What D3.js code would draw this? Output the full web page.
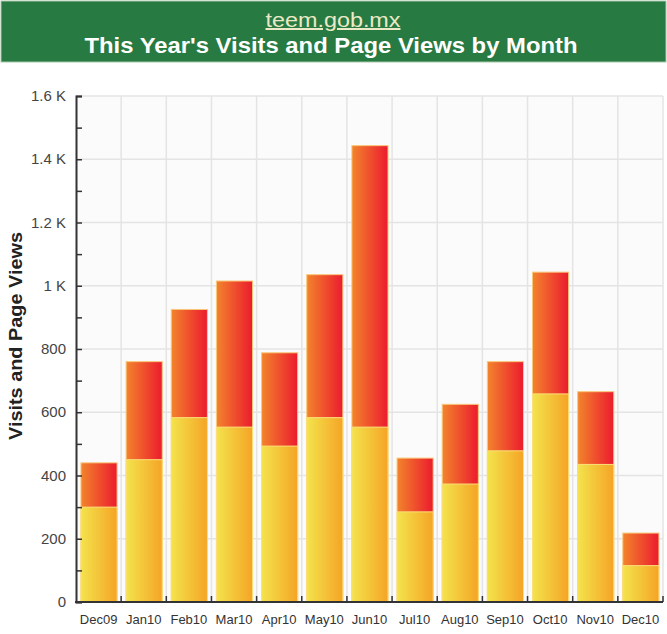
<!DOCTYPE html>
<html>
<head>
<meta charset="utf-8">
<script src="https://cdn.jsdelivr.net/npm/d3@7"></script>
<style>
  body { margin: 0; background: #fff; }
  svg { display: block; font-family: "Liberation Sans", Arial, sans-serif; }
</style>
</head>
<body>
<div id="graphicContainer"></div>
<script>
// data
var months = ["Dec09", "Jan10", "Feb10", "Mar10", "Apr10", "May10", "Jun10", "Jul10", "Aug10", "Sep10", "Oct10", "Nov10", "Dec10"]
var visits = [300, 450, 583, 553, 493, 583, 553, 285, 373, 478, 658, 435, 115]
var pageViews = [440, 760, 925, 1015, 788, 1035, 1443, 455, 625, 760, 1043, 665, 218]
var yTicks = [0, 200, 400, 600, 800, 1000, 1200, 1400, 1600]

var width = 667
var height = 634
var margin = { top: 96, right: 4, bottom: 32, left: 76 }

var svg = d3.select("#graphicContainer").append("svg")
  .attr("width", width)
  .attr("height", height)

var defs = svg.append("defs")

function gradient(id, from, to) {
  var g = defs.append("linearGradient").attr("id", id)
    .attr("x1", "0%").attr("x2", "100%").attr("y1", "0%").attr("y2", "0%")
  g.append("stop").attr("offset", "0%").attr("stop-color", from)
  g.append("stop").attr("offset", "100%").attr("stop-color", to)
}
gradient("gradVisits", "#f3e34c", "#f5a425")
gradient("gradViews", "#f2842c", "#ec1b2e")

// header
svg.append("rect")
  .attr("x", 1).attr("y", 1)
  .attr("width", width - 2).attr("height", 61)
  .attr("fill", "#267a42")
  .attr("stroke", "#a9c7a9")

svg.append("text")
  .attr("x", 333).attr("y", 27)
  .attr("text-anchor", "middle")
  .attr("fill", "#ece9c6")
  .attr("font-size", 20)
  .attr("textLength", 135)
  .attr("lengthAdjust", "spacingAndGlyphs")
  .attr("text-decoration", "underline")
  .text("teem.gob.mx")

svg.append("text")
  .attr("x", 331).attr("y", 53)
  .attr("text-anchor", "middle")
  .attr("fill", "#fff")
  .attr("font-size", 22)
  .attr("font-weight", "bold")
  .attr("textLength", 493)
  .attr("lengthAdjust", "spacingAndGlyphs")
  .text("This Year's Visits and Page Views by Month")

var x = d3.scaleBand()
  .domain(months)
  .range([margin.left, width - margin.right])
  .paddingInner(0.2)
  .paddingOuter(0.1)
  .align(0.55)

var y = d3.scaleLinear()
  .domain([0, 1600])
  .range([height - margin.bottom, margin.top])

var step = x.step()
var bandEdges = months.map((m, i) => margin.left + step * (i + 1))

// plot background and grid
svg.append("rect")
  .attr("x", margin.left).attr("y", margin.top)
  .attr("width", width - margin.right - margin.left)
  .attr("height", y(0) - margin.top)
  .attr("fill", "#fbfbfb")

svg.append("g")
  .selectAll("line")
  .data(yTicks.slice(1))
  .enter()
  .append("line")
  .attr("x1", margin.left).attr("x2", width - margin.right)
  .attr("y1", d => y(d)).attr("y2", d => y(d))
  .attr("stroke", "#e4e4e4")
  .attr("stroke-width", 1.5)

svg.append("g")
  .selectAll("line")
  .data(bandEdges)
  .enter()
  .append("line")
  .attr("x1", d => d).attr("x2", d => d)
  .attr("y1", margin.top).attr("y2", y(0))
  .attr("stroke", "#e4e4e4")
  .attr("stroke-width", 1.5)

// bars: page views behind, visits in front
var bars = svg.append("g")
  .selectAll("g")
  .data(months.map((m, i) => ({ month: m, visits: visits[i], views: pageViews[i] })))
  .enter()
  .append("g")

bars.append("rect")
  .attr("x", d => x(d.month))
  .attr("y", d => y(d.views))
  .attr("width", x.bandwidth())
  .attr("height", d => y(0) - y(d.views))
  .attr("fill", "url(#gradViews)")
  .attr("stroke", "#f9c77a")
  .attr("stroke-width", 1)

bars.append("rect")
  .attr("x", d => x(d.month))
  .attr("y", d => y(d.visits))
  .attr("width", x.bandwidth())
  .attr("height", d => y(0) - y(d.visits))
  .attr("fill", "url(#gradVisits)")
  .attr("stroke", "#fbe07a")
  .attr("stroke-width", 1)

// y axis
var yAxis = svg.append("g")
  .attr("transform", `translate(${margin.left},0)`)
  .call(d3.axisRight(y)
    .tickValues(d3.range(0, 1601, 100))
    .tickSize(6)
    .tickFormat(""))
yAxis.select(".domain").attr("stroke", "#333").attr("stroke-width", 2)
yAxis.selectAll(".tick line").attr("stroke", "#333").attr("stroke-width", 1.5)

svg.append("g")
  .selectAll("text")
  .data(yTicks)
  .enter()
  .append("text")
  .attr("x", margin.left - 10)
  .attr("y", d => y(d) + 5)
  .attr("text-anchor", "end")
  .attr("fill", "#444")
  .attr("font-size", 15)
  .text(d => d >= 1000 ? (d / 1000) + " K" : d)

// x axis
svg.append("line")
  .attr("x1", margin.left - 1).attr("x2", width - margin.right)
  .attr("y1", y(0)).attr("y2", y(0))
  .attr("stroke", "#333").attr("stroke-width", 2)

svg.append("g")
  .selectAll("line")
  .data(bandEdges)
  .enter()
  .append("line")
  .attr("x1", d => d).attr("x2", d => d)
  .attr("y1", y(0)).attr("y2", y(0) - 6)
  .attr("stroke", "#333").attr("stroke-width", 1.5)

svg.append("g")
  .selectAll("text")
  .data(months)
  .enter()
  .append("text")
  .attr("x", d => margin.left + step * (months.indexOf(d) + 0.5))
  .attr("y", y(0) + 22)
  .attr("text-anchor", "middle")
  .attr("fill", "#333")
  .attr("font-size", 13)
  .text(d => d)

svg.append("text")
  .attr("transform", `translate(22,336) rotate(-90)`)
  .attr("text-anchor", "middle")
  .attr("fill", "#222")
  .attr("font-size", 18)
  .attr("font-weight", "bold")
  .attr("textLength", 208)
  .attr("lengthAdjust", "spacingAndGlyphs")
  .text("Visits and Page Views")
</script>
</body>
</html>
